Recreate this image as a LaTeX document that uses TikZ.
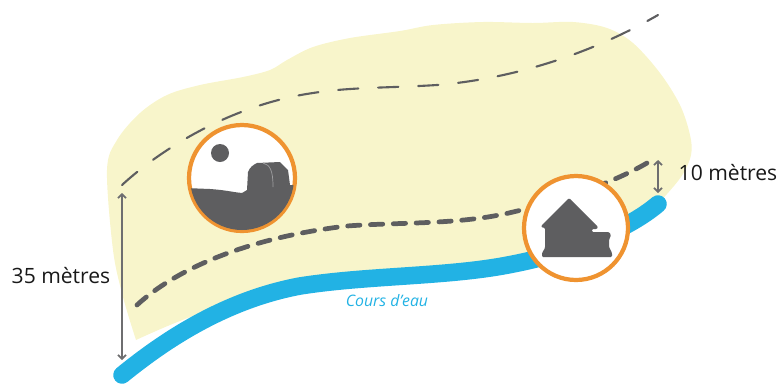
\documentclass[tikz,border=0pt]{standalone}
\usepackage{xcolor}
\usepackage{fontspec}
\setmainfont{Open Sans}
\usetikzlibrary{arrows.meta, positioning}
\definecolor{zonecol}{HTML}{F8F5CB}
\definecolor{rivercol}{HTML}{22B2E4}
\definecolor{ringcol}{HTML}{EF9330}
\definecolor{darkcol}{HTML}{5E5E60}
\tikzset{
  ring/.style={circle, draw=ringcol, line width=2.4pt, fill=white, minimum size=#1, inner sep=0pt},
  span/.style={draw=darkcol!90, line width=1pt, {Straight Barb[length=2.2pt,width=4.5pt]}-{Straight Barb[length=2.2pt,width=4.5pt]}},
  limit/.style={draw=darkcol, line cap=round},
  label/.style={font=\fontsize{12}{14}\selectfont, text=black!90},
}
\begin{document}
\begin{tikzpicture}[x=0.02cm, y=-0.02cm]
    \useasboundingbox (0,0) rectangle (780,383);

    % Zone
    \fill[zonecol] plot[smooth, tension=0.55] coordinates {(136,340) (123,297) (113,250) (107,170)
        (117,140) (140,113) (167,95) (200,85) (243,77) (270,70) (287,60) (313,47) (350,38)
        (400,31) (433,25) (483,22) (533,23) (573,22) (607,28) (633,43) (660,73) (680,105)
        (690,135) (691,155) (681,177) (658,204)}
      .. controls (625,232) and (565,254) .. (513,264)
      .. controls (450,277) and (370,275) .. (300,286)
      .. controls (240,297) and (190,315) .. (136,340) -- cycle;

    % River
    \draw[rivercol, line width=10pt, line cap=round] (122,375)
      .. controls (165,340) and (225,300) .. (300,286)
      .. controls (370,275) and (450,277) .. (513,264)
      .. controls (565,254) and (625,232) .. (658,204);
    \node[rivercol, font=\fontsize{9}{10}\selectfont\itshape] (river) at (387,301) {Cours d'eau};

    % Limits
    \draw[limit, line width=1.2pt, dash pattern=on 11.5pt off 11.3pt] (122,185)
      .. controls (160,150) and (230,105) .. (313,93)
      .. controls (350,87) and (390,88) .. (437,85)
      .. controls (500,80) and (580,60) .. (658,15);
    \draw[limit, line width=2.7pt, dash pattern=on 7pt off 6pt] (137,305)
      .. controls (175,270) and (245,238) .. (347,226)
      .. controls (400,222) and (460,225) .. (513,212)
      .. controls (565,200) and (620,180) .. (652,160);

    % Distances
    \coordinate (top35) at (122,193);
    \coordinate (bot35) at (122,360);
    \coordinate (top10) at (658,160);
    \coordinate (bot10) at (658,193);
    \draw[span] (top35) -- (bot35);
    \draw[span] (top10) -- (bot10);
    \node[label] (dist35) at (61,276) {35 mètres};
    \node[label] (dist10) at (728,173) {10 mètres};

    % Field
    \node[ring=2.12cm] (field) at (242,178) {};
    \begin{scope}
      \clip (field.center) circle (52);
      \fill[darkcol] (185,188) -- (210,189) .. controls (225,190) and (232,192) .. (242,193)
        -- (247,190) -- (248,172) .. controls (250,167) and (253,165) .. (257,163)
        -- (280,162) -- (288,170) -- (290,185) -- (300,185) -- (300,240) -- (185,240) -- cycle;
    \end{scope}
    \draw[darkcol!60, line width=0.4pt] (263,163) .. controls (270,165) and (273,170) .. (273,187);
    \fill[darkcol] (220,153) circle (9);

    % House
    \node[ring=2.08cm] (house) at (576,228) {};
    \fill[darkcol, rounded corners=0.6pt] (569,198) -- (598,227) -- (597,229) -- (592,229) -- (592,232)
      -- (609,232) -- (611,235) -- (609,240) -- (609,247) -- (612,253) -- (612,257) -- (542,257)
      -- (542,253) -- (545,248) -- (545,228) -- (541,227) -- (542,225) -- cycle;
\end{tikzpicture}
\end{document}
